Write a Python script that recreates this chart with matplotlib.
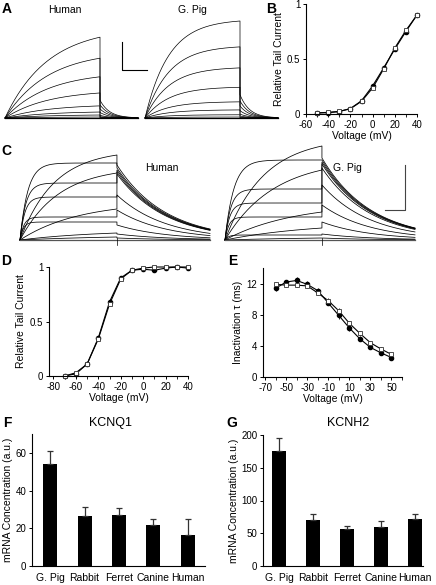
import matplotlib
matplotlib.use('Agg')
import matplotlib.pyplot as plt
import numpy as np
from matplotlib.ticker import MultipleLocator

plt.rcParams['font.family'] = ['Liberation Sans', 'DejaVu Sans']
plt.rcParams['font.size'] = 7
plt.rcParams['axes.unicode_minus'] = False

W, H = 436, 585

# ---------------- data ----------------
# A: slowly activating currents (amplitude at end of step, relative)
a_step_t = np.linspace(0, 1, 200)
a_tail_t = np.linspace(0, 0.4, 80)
a_human_amp = [1.0, 0.74, 0.51, 0.31, 0.15, 0.074, 0.037, 0.012]
a_gpig_amp = [1.2, 0.88, 0.62, 0.38, 0.2, 0.1, 0.04, 0.012]
a_human_tau = 0.45
a_gpig_tau = 0.25
a_human_tailfrac = 0.22
a_gpig_tailfrac = 0.24
a_tail_tau = 0.1

# C: rapidly activating / inactivating currents
c_step_t = np.linspace(0, 1, 250)
c_tail_t = np.linspace(0, 0.96, 200)
c_human_amp = [0.85, 0.77, 0.67, 0.57, 0.43, 0.31, 0.23, 0.18, 0.07, 0.03]
c_human_tau = [0.35, 0.08, 0.4, 0.06, 0.05, 0.6, 0.04, 0.035, 0.8, 1.0]
c_human_tail = [0.75, 0.72, 0.70, 0.68, 0.66, 0.45, 0.30, 0.15, 0.06, 0.02]
c_gpig_amp = [0.94, 0.80, 0.70, 0.51, 0.37, 0.28, 0.23, 0.12, 0.05, 0.02]
c_gpig_tau = [0.4, 0.09, 0.5, 0.06, 0.05, 0.7, 0.04, 0.9, 0.035, 1.0]
c_gpig_tail = [0.82, 0.80, 0.78, 0.76, 0.72, 0.55, 0.35, 0.18, 0.06, 0.02]
c_tail_tau = 0.5

# B: activation, relative tail current
b_volt = [-50, -40, -30, -20, -10, 0, 10, 20, 30, 40]
b_human = [0.01, 0.012, 0.022, 0.05, 0.12, 0.255, 0.42, 0.59, 0.75, 0.90]
b_gpig = [0.01, 0.015, 0.024, 0.048, 0.115, 0.236, 0.41, 0.60, 0.76, 0.90]

# D: activation, relative tail current
d_volt = [-70, -60, -50, -40, -30, -20, -10, 0, 10, 20, 30, 40]
d_human = [0.0, 0.02, 0.11, 0.35, 0.68, 0.90, 0.97, 0.98, 0.97, 0.99, 1.0, 0.99]
d_gpig = [0.0, 0.03, 0.11, 0.34, 0.66, 0.89, 0.97, 0.99, 1.0, 1.0, 1.0, 1.0]

# E: inactivation time constant (ms)
e_volt = [-60, -50, -40, -30, -20, -10, 0, 10, 20, 30, 40, 50]
e_human = [11.4, 12.2, 12.4, 11.9, 11.1, 9.5, 7.9, 6.3, 4.9, 3.8, 3.1, 2.5]
e_human_err = [0.3, 0.3, 0.4, 0.4, 0.3, 0.3, 0.4, 0.4, 0.3, 0.2, 0.2, 0.2]
e_gpig = [11.9, 11.8, 11.8, 11.7, 10.8, 9.8, 8.5, 6.9, 5.6, 4.4, 3.6, 2.9]
e_gpig_err = [0.3, 0.3, 0.3, 0.3, 0.3, 0.3, 0.3, 0.3, 0.3, 0.2, 0.2, 0.2]

# F, G: mRNA concentration
species = ['G. Pig', 'Rabbit', 'Ferret', 'Canine', 'Human']
kcnq1 = [54, 26.7, 27.3, 21.8, 16.5]
kcnq1_err = [7.2, 4.8, 3.3, 3.0, 8.3]
kcnh2 = [176, 70, 57, 60, 72]
kcnh2_err = [19, 9, 4, 9, 7]


def px_box(x0, y0, x1, y1):
    return [x0 / W, 1 - y1 / H, (x1 - x0) / W, (y1 - y0) / H]


def style(ax):
    for s in ['top', 'right']:
        ax.spines[s].set_visible(False)
    for s in ['left', 'bottom']:
        ax.spines[s].set_linewidth(0.8)
    ax.tick_params(direction='out', length=2.5, width=0.7, labelsize=7, pad=1.5)
    ax.tick_params(which='minor', direction='out', length=1.8, width=0.6)


def trace_axes(box, xlim, ylim):
    ax = fig.add_axes(px_box(*box))
    ax.set_xlim(*xlim)
    ax.set_ylim(*ylim)
    ax.axis('off')
    return ax


fig = plt.figure(figsize=(W / 100, H / 100), dpi=100)

# ---------------- A ----------------
for box, amps, tau, frac in [((5, 21, 138, 118), a_human_amp, a_human_tau, a_human_tailfrac),
                             ((145, 21, 278, 118), a_gpig_amp, a_gpig_tau, a_gpig_tailfrac)]:
    ax = trace_axes(box, (0, 1.4), (0, 1.2))
    for A in amps:
        step = A * (1 - np.exp(-a_step_t / tau)) / (1 - np.exp(-1 / tau))
        tail = A * frac * np.exp(-a_tail_t / a_tail_tau)
        ax.plot(np.r_[a_step_t, 1 + a_tail_t], np.r_[step, tail], color='k', lw=0.5, clip_on=False)
    ax.plot([0, 1.4], [0, 0], color='k', lw=0.9, clip_on=False)

# ---------------- C ----------------
for box, amps, taus, tails in [((20, 140, 210, 240), c_human_amp, c_human_tau, c_human_tail),
                               ((225, 140, 415, 240), c_gpig_amp, c_gpig_tau, c_gpig_tail)]:
    ax = trace_axes(box, (0, 1.96), (0, 1.0))
    for A, tau, T in zip(amps, taus, tails):
        step = A * (1 - np.exp(-c_step_t / tau)) / (1 - np.exp(-1 / tau))
        tail = T * np.exp(-c_tail_t / c_tail_tau)
        ax.plot(np.r_[c_step_t, 1 + c_tail_t], np.r_[step, tail], color='k', lw=0.55, clip_on=False)
    ax.plot([0, 1.96], [0, 0], color='#555', lw=0.9, clip_on=False)
    ax.plot([1, 1], [-0.05, 0.02], color='k', lw=0.5, clip_on=False)

# ---------------- B ----------------
ax = fig.add_axes(px_box(306, 4, 417, 114))
style(ax)
ax.plot(b_volt, b_human, '-o', color='k', lw=0.8, ms=3, clip_on=False)
ax.plot(b_volt, b_gpig, '-s', color='k', mfc='white', mec='#333', mew=0.6, lw=0.8, ms=3.2, clip_on=False)
ax.set_xlim(-60, 40)
ax.set_ylim(0, 1)
ax.set_xticks(range(-60, 41, 20))
ax.xaxis.set_minor_locator(MultipleLocator(10))
ax.set_yticks([0, 0.5, 1])
ax.set_yticklabels(['0', '0.5', '1'])
ax.set_xlabel('Voltage (mV)', fontsize=7.5, labelpad=1)
ax.set_ylabel('Relative Tail Current', fontsize=7.5, labelpad=2)

# ---------------- D ----------------
ax = fig.add_axes(px_box(49, 267, 188, 376))
style(ax)
ax.plot(d_volt, d_human, '-o', color='k', lw=0.8, ms=3, clip_on=False)
ax.plot(d_volt, d_gpig, '-s', color='k', mfc='white', mec='#333', mew=0.6, lw=0.8, ms=3.2, clip_on=False)
ax.set_xlim(-84, 40)
ax.set_ylim(0, 1)
ax.set_xticks(range(-80, 41, 20))
ax.xaxis.set_minor_locator(MultipleLocator(10))
ax.set_yticks([0, 0.5, 1])
ax.set_yticklabels(['0', '0.5', '1'])
ax.set_xlabel('Voltage (mV)', fontsize=7.5, labelpad=1)
ax.set_ylabel('Relative Tail Current', fontsize=7.5, labelpad=3)

# ---------------- E ----------------
ax = fig.add_axes(px_box(263, 268, 402, 377))
style(ax)
ax.errorbar(e_volt, e_human, yerr=e_human_err, fmt='-o', color='k', lw=0.8, ms=3,
            elinewidth=0.6, capsize=0, clip_on=False)
ax.errorbar(e_volt, e_gpig, yerr=e_gpig_err, fmt='-s', color='k', mfc='white', mec='#333',
            mew=0.6, lw=0.8, ms=3.2, elinewidth=0.6, capsize=0, clip_on=False)
ax.set_xlim(-72, 60)
ax.set_ylim(0, 14)
ax.set_xticks(range(-70, 51, 20))
ax.xaxis.set_minor_locator(MultipleLocator(10))
ax.set_yticks([0, 4, 8, 12])
ax.set_xlabel('Voltage (mV)', fontsize=7.5, labelpad=1)
ax.set_ylabel('Inactivation τ (ms)', fontsize=7.5, labelpad=3)

# ---------------- F, G ----------------
for box, vals, errs, ylim, yt, xlim, title in [
        ((32, 434, 205, 566), kcnq1, kcnq1_err, 70, [0, 20, 40, 60], (-0.53, 4.5), 'KCNQ1'),
        ((263, 435, 423, 566), kcnh2, kcnh2_err, 200, [0, 50, 100, 150, 200], (-0.47, 4.24), 'KCNH2')]:
    ax = fig.add_axes(px_box(*box))
    style(ax)
    x = np.arange(len(species))
    ax.bar(x, vals, width=0.41, color='black')
    ax.errorbar(x, vals, yerr=[np.zeros(len(errs)), errs], fmt='none', ecolor='#333',
                elinewidth=0.9, capsize=2.2, capthick=0.9)
    ax.set_xlim(*xlim)
    ax.set_ylim(0, ylim)
    ax.set_yticks(yt)
    ax.set_xticks(x)
    ax.set_xticklabels(species, fontsize=7.5)
    ax.tick_params(axis='x', length=0, pad=5)
    ax.set_ylabel('mRNA Concentration (a.u.)', fontsize=7.5, labelpad=2)

# ---------------- annotations (pixel overlay) ----------------
ov = fig.add_axes([0, 0, 1, 1])
ov.set_xlim(0, W)
ov.set_ylim(H, 0)
ov.axis('off')
# scale bars
ov.plot([122, 122, 147], [42, 70, 70], color='k', lw=0.8)
ov.plot([385, 405, 405], [210, 210, 165], color='#444', lw=0.8)

letters = {'A': (7, 9), 'B': (271, 9), 'C': (6, 151), 'D': (6, 261),
           'E': (233, 261), 'F': (7, 423), 'G': (232, 423)}
for k, (lx, ly) in letters.items():
    ov.text(lx, ly, k, fontsize=10, fontweight='bold', ha='center', va='center')
ov.text(65, 10, 'Human', fontsize=7.5, ha='center', va='center')
ov.text(192, 10, 'G. Pig', fontsize=7.5, ha='center', va='center')
ov.text(162, 168, 'Human', fontsize=7.5, ha='center', va='center')
ov.text(347, 168, 'G. Pig', fontsize=7.5, ha='center', va='center')
ov.text(110, 423, 'KCNQ1', fontsize=9, ha='center', va='center')
ov.text(348, 423, 'KCNH2', fontsize=9, ha='center', va='center')

fig.savefig('out.png', dpi=100)
